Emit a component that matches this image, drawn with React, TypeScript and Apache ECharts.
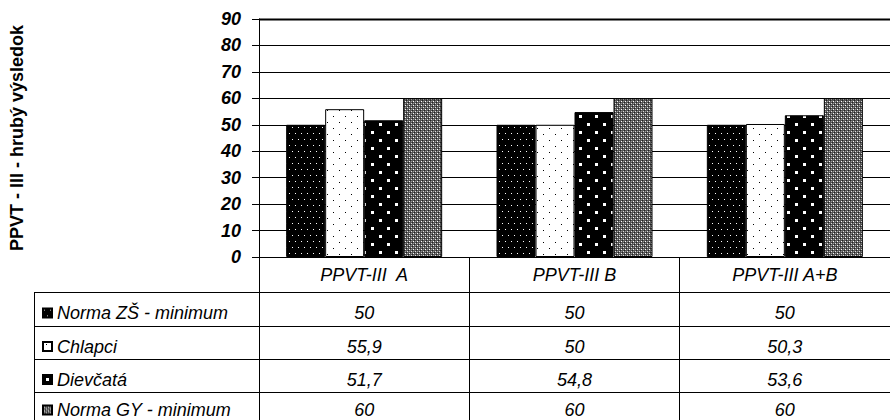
import React, { useEffect, useRef } from 'react';
import * as echarts from 'echarts';

// Categories and series values
const categories = ['PPVT-III  A', 'PPVT-III B', 'PPVT-III A+B'];
const seriesNames = ['Norma ZŠ - minimum', 'Chlapci', 'Dievčatá', 'Norma GY - minimum'];
const normaZS = [50, 50, 50];
const chlapci = [55.9, 50, 50.3];
const dievcata = [51.7, 54.8, 53.6];
const normaGY = [60, 60, 60];
const seriesValues = [normaZS, chlapci, dievcata, normaGY];

// Value axis
const yMin = 0;
const yMax = 90;
const yInterval = 10;
const yAxisName = 'PPVT - III - hrubý výsledok';

const FONT = '"Liberation Sans", Arial, sans-serif';

// Layout
const GRID_LEFT = 259;
const GRID_TOP = 19;
const GRID_W = 636;
const GRID_H = 238;
const TABLE_LEFT = 34;
const TABLE_BOTTOM = 420;
const ROW_LINES = [292.5, 326.5, 359.5, 392.5];
const ROW_TEXT_Y = [313, 346.5, 379.5, 410];

type Dot = [number, number, number, string];

function makeTile(size: number, bg: string, dots: Dot[]): HTMLCanvasElement {
  const c = document.createElement('canvas');
  c.width = size;
  c.height = size;
  const ctx = c.getContext('2d')!;
  ctx.fillStyle = bg;
  ctx.fillRect(0, 0, size, size);
  for (const [x, y, s, col] of dots) {
    ctx.fillStyle = col;
    ctx.fillRect(x, y, s, s);
  }
  return c;
}

function buildPatterns() {
  const zs = makeTile(12, '#000', [
    [1, 1, 1, '#fff'], [7, 1, 1, '#fff'], [4, 7, 1, '#fff'], [10, 7, 1, '#fff'],
  ]);
  const boys = makeTile(12, '#fff', [
    [3, 2, 1, '#000'], [9, 8, 1, '#000'],
  ]);
  const girls = makeTile(16, '#000', [
    [3, 3, 3, '#fff'], [11, 11, 3, '#fff'],
  ]);
  const gy = makeTile(4, '#555', [
    [1, 1, 1, '#fff'], [3, 3, 1, '#e0e0e0'],
    [0, 2, 1, '#222'], [2, 0, 1, '#222'],
    [1, 3, 1, '#9a9a9a'], [3, 1, 1, '#9a9a9a'],
  ]);
  return [zs, boys, girls, gy];
}

const fmt = (v: number) => String(v).replace('.', ',');

export default function App() {
  const ref = useRef<HTMLDivElement>(null);

  useEffect(() => {
    if (!ref.current) return;
    const chart = echarts.init(ref.current, undefined, { renderer: 'svg' });
    const patterns = buildPatterns();

    const textStyle = { fontFamily: FONT, fontSize: 18, fontStyle: 'italic', color: '#000' };

    chart.setOption({
      animation: false,
      backgroundColor: '#fff',
      grid: { left: GRID_LEFT, top: GRID_TOP, width: GRID_W, height: GRID_H, containLabel: false },
      legend: seriesNames.map((name, i) => ({
        data: [name],
        left: 42,
        top: ROW_TEXT_Y[i] - 9,
        orient: 'vertical',
        padding: 0,
        itemWidth: 9,
        itemHeight: 9,
        icon: 'rect',
        selectedMode: false,
        textStyle: { ...textStyle },
      })),
      xAxis: {
        type: 'category',
        data: categories,
        axisLine: { lineStyle: { color: '#000', width: 1 } },
        axisTick: { show: true, length: TABLE_BOTTOM - (GRID_TOP + GRID_H), interval: 0, lineStyle: { color: '#000', width: 1 } },
        axisLabel: { ...textStyle, margin: 18, verticalAlign: 'middle', interval: 0 },
        splitLine: { show: false },
      },
      yAxis: {
        type: 'value',
        min: yMin,
        max: yMax,
        interval: yInterval,
        name: yAxisName,
        nameLocation: 'middle',
        nameGap: 233,
        nameRotate: 90,
        nameTextStyle: { fontFamily: FONT, fontSize: 18, fontWeight: 'bold', color: '#000' },
        axisLine: { show: true, lineStyle: { color: '#000', width: 1 } },
        axisTick: { show: true, length: 7, lineStyle: { color: '#000', width: 1 } },
        axisLabel: { fontFamily: FONT, fontSize: 18, fontWeight: 'bold', fontStyle: 'italic', color: '#000', margin: 18 },
        splitLine: { show: true, lineStyle: { color: '#000', width: 1 } },
      },
      series: seriesNames.map((name, i) => ({
        name,
        type: 'bar',
        data: seriesValues[i],
        barWidth: 39,
        barGap: '0%',
        itemStyle: {
          color: { image: patterns[i], repeat: 'repeat' },
          borderColor: '#000',
          borderWidth: 1,
        },
      })),
    });

    // Data table below the plot, aligned with the category axis
    const colX = categories.map((c) => chart.convertToPixel({ xAxisIndex: 0 }, c) as number);
    const elements: any[] = [];
    elements.push({
      type: 'line',
      shape: { x1: GRID_LEFT, y1: GRID_TOP + 0.5, x2: GRID_LEFT + GRID_W, y2: GRID_TOP + 0.5 },
      style: { stroke: '#000', lineWidth: 2 },
      silent: true,
    });
    ROW_LINES.forEach((y) => {
      elements.push({
        type: 'line',
        shape: { x1: TABLE_LEFT, y1: y, x2: GRID_LEFT + GRID_W, y2: y },
        style: { stroke: '#000', lineWidth: 1 },
        silent: true,
      });
    });
    elements.push({
      type: 'line',
      shape: { x1: TABLE_LEFT + 0.5, y1: ROW_LINES[0], x2: TABLE_LEFT + 0.5, y2: TABLE_BOTTOM },
      style: { stroke: '#000', lineWidth: 1 },
      silent: true,
    });
    seriesValues.forEach((vals, i) => {
      vals.forEach((v, j) => {
        elements.push({
          type: 'text',
          x: colX[j],
          y: ROW_TEXT_Y[i],
          style: {
            text: fmt(v),
            fill: '#000',
            font: `italic 18px ${FONT}`,
            textAlign: 'center',
            textVerticalAlign: 'middle',
          },
          silent: true,
        });
      });
    });
    chart.setOption({ graphic: { elements } });

    return () => chart.dispose();
  }, []);

  return <div ref={ref} style={{ position: 'fixed', left: 0, top: 0, width: 890, height: 420 }} />;
}
